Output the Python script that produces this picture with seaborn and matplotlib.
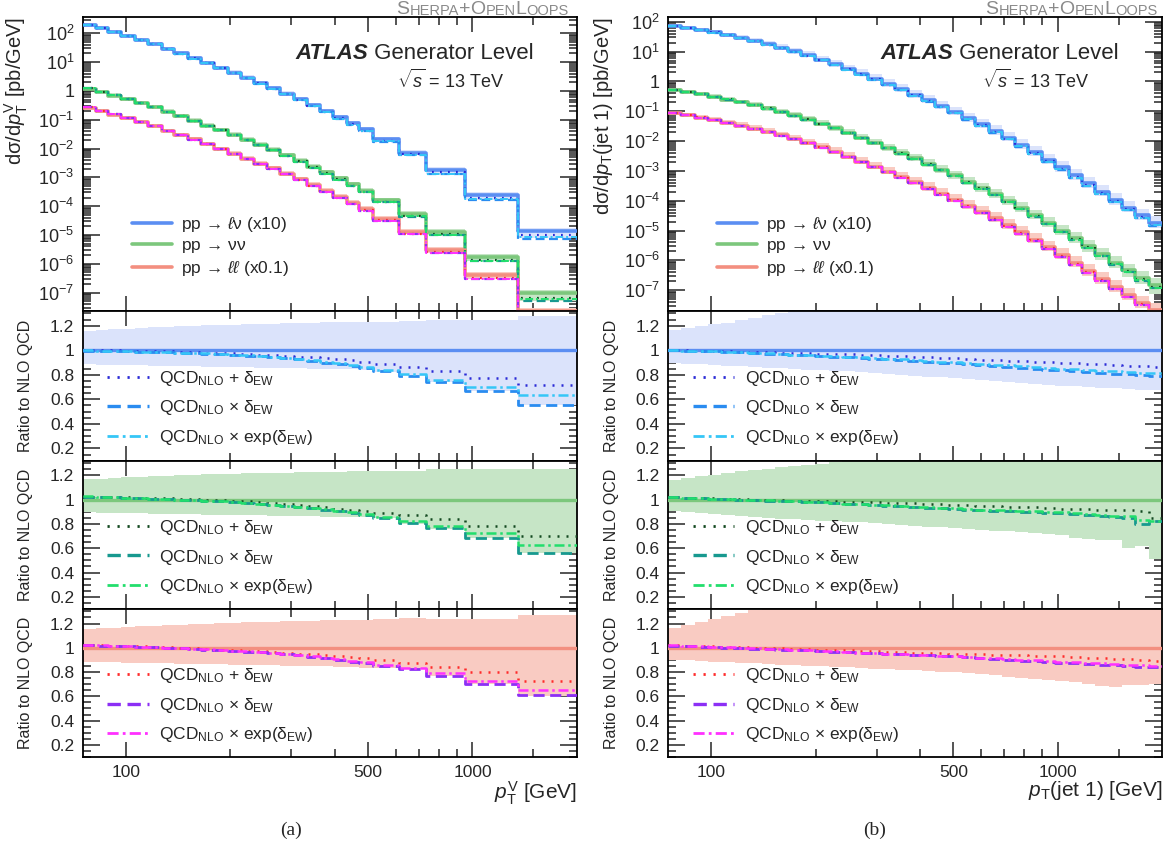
import numpy as np
import pandas as pd
import matplotlib
matplotlib.use("Agg")
import matplotlib.pyplot as plt
import seaborn as sns
from matplotlib.lines import Line2D
from matplotlib.ticker import FixedLocator, FuncFormatter, MultipleLocator, NullFormatter

sns.set_theme(style="ticks")
plt.rcParams["font.family"] = ["Liberation Sans", "DejaVu Sans"]
plt.rcParams["mathtext.fontset"] = "custom"
plt.rcParams["mathtext.rm"] = "Liberation Sans"
plt.rcParams["mathtext.it"] = "Liberation Sans:italic"
plt.rcParams["mathtext.bf"] = "Liberation Sans:bold"
plt.rcParams["axes.linewidth"] = 1.3
plt.rcParams["axes.edgecolor"] = "black"

# ---------------- data: (a) pT of the boson ----------------
EDGES_A = [75, 82, 89, 97, 106, 116, 127, 138, 151, 165, 180, 197, 215, 234, 256, 279,
           305, 333, 363, 396, 433, 472, 515, 614, 732, 951, 1350, 2000]

LV_A = [194, 149, 110, 81, 59, 42, 29, 20, 13.7, 9.3, 6.3, 4.3, 2.85, 1.9, 1.25, 0.81,
        0.51, 0.32, 0.2, 0.122, 0.075, 0.046, 0.021, 7.3e-3, 1.8e-3, 2.5e-4, 1.37e-5]
VV_A = [1.196, 0.919, 0.694, 0.511, 0.381, 0.271, 0.1915, 0.132, 0.0926, 0.0629, 0.0436,
        0.0298, 0.0202, 0.01345, 9.06e-3, 5.87e-3, 3.78e-3, 2.37e-3, 1.48e-3, 9.26e-4,
        5.69e-4, 3.49e-4, 1.59e-4, 5.41e-5, 1.30e-5, 1.77e-6, 9.48e-8]
LL_A = [0.262, 0.201, 0.152, 0.112, 0.0834, 0.0593, 0.0419, 0.0296, 0.0207, 0.0141, 9.76e-3,
        6.67e-3, 4.52e-3, 3.01e-3, 2.08e-3, 1.34e-3, 8.66e-4, 5.43e-4, 3.39e-4, 2.12e-4,
        1.30e-4, 8.0e-5, 3.64e-5, 1.27e-5, 3.05e-6, 4.15e-7, 2.22e-8]

LV_A_ADD = [1.0, 0.999, 0.998, 0.996, 0.994, 0.992, 0.99, 0.987, 0.984, 0.981, 0.978, 0.974, 0.97,
            0.965, 0.96, 0.955, 0.948, 0.942, 0.936, 0.928, 0.917, 0.905, 0.89, 0.866, 0.83, 0.775, 0.72]
LV_A_MUL = [0.997, 0.995, 0.993, 0.99, 0.988, 0.985, 0.982, 0.979, 0.976, 0.972, 0.968, 0.963, 0.957,
            0.951, 0.943, 0.935, 0.925, 0.914, 0.90, 0.886, 0.87, 0.855, 0.828, 0.79, 0.74, 0.666, 0.55]
LV_A_EXP = [0.998, 0.996, 0.994, 0.991, 0.989, 0.986, 0.983, 0.98, 0.977, 0.974, 0.97, 0.965, 0.959,
            0.953, 0.945, 0.937, 0.928, 0.918, 0.905, 0.892, 0.877, 0.864, 0.842, 0.805, 0.756, 0.70, 0.633]
LV_A_UP = [1.159, 1.165, 1.171, 1.176, 1.181, 1.186, 1.19, 1.194, 1.198, 1.202, 1.205, 1.208, 1.211,
           1.214, 1.217, 1.22, 1.222, 1.225, 1.228, 1.23, 1.232, 1.233, 1.234, 1.235, 1.245, 1.246, 1.282]
LV_A_DN = [0.885, 0.883, 0.881, 0.879, 0.877, 0.875, 0.873, 0.871, 0.869, 0.867, 0.865, 0.863, 0.861,
           0.859, 0.857, 0.855, 0.852, 0.85, 0.848, 0.846, 0.844, 0.842, 0.826, 0.79, 0.74, 0.665, 0.552]

VV_A_ADD = [1.025, 1.023, 1.021, 1.018, 1.015, 1.012, 1.009, 1.006, 1.003, 1.0, 0.996, 0.992, 0.986,
            0.979, 0.972, 0.964, 0.955, 0.945, 0.935, 0.925, 0.915, 0.902, 0.888, 0.872, 0.84, 0.785, 0.703]
VV_A_MUL = [1.025, 1.022, 1.019, 1.015, 1.011, 1.007, 1.003, 0.999, 0.995, 0.99, 0.985, 0.979, 0.972,
            0.964, 0.955, 0.946, 0.937, 0.927, 0.916, 0.905, 0.892, 0.877, 0.847, 0.804, 0.763, 0.684, 0.561]
VV_A_EXP = [1.026, 1.023, 1.02, 1.016, 1.012, 1.008, 1.004, 1.0, 0.996, 0.991, 0.986, 0.98, 0.973,
            0.965, 0.956, 0.947, 0.939, 0.929, 0.919, 0.908, 0.896, 0.882, 0.858, 0.826, 0.785, 0.722, 0.629]
VV_A_UP = [1.168, 1.173, 1.178, 1.183, 1.188, 1.192, 1.196, 1.2, 1.204, 1.207, 1.21, 1.213, 1.216,
           1.218, 1.22, 1.222, 1.224, 1.226, 1.228, 1.23, 1.231, 1.232, 1.234, 1.234, 1.248, 1.253, 1.248]
VV_A_DN = [0.895, 0.893, 0.891, 0.889, 0.887, 0.885, 0.883, 0.881, 0.879, 0.877, 0.875, 0.873, 0.871,
           0.869, 0.867, 0.865, 0.863, 0.861, 0.859, 0.857, 0.855, 0.853, 0.845, 0.802, 0.761, 0.682, 0.559]

LL_A_ADD = [1.022, 1.02, 1.017, 1.014, 1.011, 1.007, 1.003, 0.999, 0.995, 0.99, 0.985, 0.98, 0.975,
            0.97, 0.965, 0.958, 0.951, 0.945, 0.938, 0.932, 0.925, 0.915, 0.90, 0.875, 0.845, 0.80, 0.728]
LL_A_MUL = [1.02, 1.018, 1.015, 1.012, 1.008, 1.004, 1.0, 0.996, 0.991, 0.986, 0.981, 0.976, 0.969,
            0.962, 0.954, 0.946, 0.938, 0.927, 0.915, 0.90, 0.886, 0.872, 0.853, 0.826, 0.771, 0.70, 0.608]
LL_A_EXP = [1.021, 1.019, 1.016, 1.013, 1.009, 1.005, 1.001, 0.997, 0.992, 0.987, 0.982, 0.977, 0.97,
            0.963, 0.955, 0.948, 0.94, 0.93, 0.919, 0.905, 0.892, 0.879, 0.861, 0.834, 0.793, 0.73, 0.649]
LL_A_UP = [1.155, 1.161, 1.167, 1.172, 1.177, 1.182, 1.187, 1.191, 1.195, 1.199, 1.203, 1.206, 1.209,
           1.212, 1.215, 1.218, 1.221, 1.224, 1.226, 1.228, 1.23, 1.232, 1.234, 1.243, 1.234, 1.24, 1.267]
LL_A_DN = [0.883, 0.881, 0.879, 0.877, 0.875, 0.873, 0.871, 0.869, 0.867, 0.865, 0.863, 0.861, 0.859,
           0.857, 0.855, 0.853, 0.851, 0.849, 0.846, 0.843, 0.84, 0.837, 0.835, 0.824, 0.769, 0.698, 0.605]

# ---------------- data: (b) pT of the leading jet ----------------
EDGES_B = [75, 82, 90, 98, 107, 117, 128, 140, 153, 167, 182, 199, 218, 238, 260, 284, 310, 339,
           370, 405, 442, 483, 528, 577, 631, 689, 753, 823, 900, 983, 1074, 1174, 1283, 1402,
           1532, 1675, 1830, 2000]

LV_B = [73.6, 63.1, 53.1, 44.0, 35.7, 28.6, 22.5, 17.5, 13.4, 10.2, 7.55, 5.4, 3.77, 2.61, 1.79,
        1.22, 0.82, 0.546, 0.359, 0.233, 0.150, 0.0951, 0.0593, 0.0364, 0.0220, 0.0131, 7.6e-3,
        4.33e-3, 2.40e-3, 1.32e-3, 7.06e-4, 3.78e-4, 2.02e-4, 1.08e-4, 5.89e-5, 3.25e-5, 1.83e-5]
VV_B = [0.509, 0.437, 0.367, 0.304, 0.247, 0.198, 0.159, 0.124, 0.0948, 0.0722, 0.0534, 0.0382,
        0.0273, 0.0189, 0.0130, 8.84e-3, 5.94e-3, 3.96e-3, 2.66e-3, 1.73e-3, 1.11e-3, 7.05e-4,
        4.40e-4, 2.70e-4, 1.67e-4, 9.94e-5, 5.77e-5, 3.29e-5, 1.82e-5, 1.00e-5, 5.48e-6, 2.93e-6,
        1.57e-6, 8.39e-7, 4.68e-7, 2.58e-7, 1.45e-7]
LL_B = [0.0845, 0.0725, 0.0609, 0.0504, 0.0410, 0.0329, 0.0258, 0.0201, 0.0154, 0.0117, 8.66e-3,
        6.20e-3, 4.33e-3, 3.0e-3, 2.06e-3, 1.40e-3, 9.41e-4, 6.28e-4, 4.12e-4, 2.68e-4, 1.72e-4,
        1.09e-4, 6.81e-5, 4.18e-5, 2.53e-5, 1.50e-5, 8.73e-6, 4.98e-6, 2.75e-6, 1.51e-6, 8.11e-7,
        4.33e-7, 2.32e-7, 1.24e-7, 6.76e-8, 3.73e-8, 2.10e-8]

LV_B_ADD = [1.0, 0.999, 0.997, 0.995, 0.992, 0.989, 0.987, 0.984, 0.981, 0.978, 0.975, 0.973, 0.970,
            0.967, 0.964, 0.961, 0.957, 0.952, 0.948, 0.943, 0.938, 0.934, 0.929, 0.924, 0.919, 0.915,
            0.910, 0.905, 0.901, 0.896, 0.892, 0.888, 0.884, 0.880, 0.875, 0.871, 0.867]
LV_B_MUL = [0.998, 0.995, 0.992, 0.990, 0.986, 0.982, 0.977, 0.973, 0.968, 0.963, 0.958, 0.954, 0.948,
            0.943, 0.937, 0.931, 0.926, 0.919, 0.913, 0.906, 0.900, 0.893, 0.885, 0.878, 0.871, 0.864,
            0.857, 0.849, 0.842, 0.835, 0.829, 0.822, 0.816, 0.809, 0.803, 0.797, 0.790]
LV_B_EXP = [0.998, 0.995, 0.992, 0.990, 0.986, 0.982, 0.978, 0.974, 0.969, 0.965, 0.960, 0.956, 0.951,
            0.946, 0.941, 0.936, 0.931, 0.925, 0.919, 0.913, 0.907, 0.901, 0.894, 0.888, 0.882, 0.876,
            0.869, 0.863, 0.857, 0.851, 0.845, 0.839, 0.834, 0.828, 0.823, 0.818, 0.813]
LV_B_UP = [1.165, 1.18, 1.195, 1.21, 1.225, 1.245, 1.265, 1.285, 1.305, 1.325, 1.345, 1.36, 1.375,
           1.39, 1.405, 1.42, 1.435, 1.45, 1.465, 1.48, 1.495, 1.51, 1.52, 1.53, 1.54, 1.55, 1.56,
           1.57, 1.58, 1.59, 1.60, 1.61, 1.62, 1.63, 1.64, 1.65, 1.66]
LV_B_DN = [0.897, 0.890, 0.884, 0.878, 0.873, 0.868, 0.863, 0.858, 0.853, 0.847, 0.842, 0.838, 0.833,
           0.828, 0.823, 0.817, 0.810, 0.802, 0.794, 0.786, 0.778, 0.770, 0.762, 0.754, 0.746, 0.739,
           0.731, 0.723, 0.715, 0.711, 0.706, 0.700, 0.695, 0.690, 0.685, 0.680, 0.675]

VV_B_ADD = [1.018, 1.015, 1.012, 1.009, 1.006, 1.003, 1.0, 0.998, 0.995, 0.992, 0.99, 0.987, 0.985,
            0.982, 0.98, 0.977, 0.975, 0.972, 0.968, 0.964, 0.961, 0.957, 0.954, 0.951, 0.947, 0.943,
            0.939, 0.935, 0.930, 0.926, 0.922, 0.920, 0.918, 0.916, 0.912, 0.910, 0.85]
VV_B_MUL = [1.018, 1.014, 1.01, 1.006, 1.002, 0.998, 0.995, 0.992, 0.989, 0.985, 0.98, 0.976, 0.971,
            0.966, 0.962, 0.957, 0.951, 0.946, 0.94, 0.934, 0.929, 0.923, 0.918, 0.913, 0.908, 0.905,
            0.90, 0.896, 0.892, 0.888, 0.88, 0.872, 0.864, 0.855, 0.85, 0.80, 0.82]
VV_B_EXP = [1.019, 1.015, 1.011, 1.007, 1.003, 0.999, 0.996, 0.993, 0.990, 0.986, 0.981, 0.977, 0.972,
            0.967, 0.963, 0.958, 0.953, 0.948, 0.942, 0.936, 0.932, 0.927, 0.922, 0.918, 0.914, 0.911,
            0.907, 0.903, 0.899, 0.895, 0.888, 0.880, 0.873, 0.866, 0.862, 0.833, 0.827]
VV_B_UP = [1.16, 1.175, 1.19, 1.205, 1.22, 1.235, 1.245, 1.255, 1.265, 1.275, 1.285, 1.295, 1.305,
           1.315, 1.33, 1.345, 1.36, 1.375, 1.39, 1.405, 1.42, 1.435, 1.45, 1.465, 1.48, 1.495, 1.51,
           1.525, 1.54, 1.555, 1.57, 1.585, 1.6, 1.62, 1.64, 1.66, 1.7]
VV_B_DN = [0.905, 0.895, 0.886, 0.878, 0.871, 0.864, 0.857, 0.850, 0.844, 0.838, 0.833, 0.827, 0.822,
           0.817, 0.812, 0.806, 0.799, 0.792, 0.785, 0.778, 0.771, 0.765, 0.759, 0.752, 0.745, 0.738,
           0.732, 0.726, 0.72, 0.71, 0.68, 0.672, 0.668, 0.665, 0.60, 0.62, 0.51]

LL_B_ADD = [1.021, 1.018, 1.015, 1.011, 1.008, 1.005, 1.002, 0.998, 0.995, 0.992, 0.989, 0.985, 0.982,
            0.978, 0.975, 0.971, 0.968, 0.964, 0.961, 0.957, 0.954, 0.95, 0.948, 0.945, 0.943, 0.940,
            0.937, 0.935, 0.932, 0.93, 0.925, 0.92, 0.915, 0.91, 0.905, 0.90, 0.89]
LL_B_MUL = [1.018, 1.014, 1.01, 1.006, 1.002, 0.998, 0.994, 0.99, 0.986, 0.982, 0.978, 0.974, 0.969,
            0.965, 0.96, 0.956, 0.951, 0.947, 0.942, 0.938, 0.933, 0.929, 0.922, 0.915, 0.909, 0.902,
            0.895, 0.889, 0.882, 0.877, 0.872, 0.866, 0.861, 0.856, 0.850, 0.844, 0.838]
LL_B_EXP = [1.019, 1.015, 1.011, 1.007, 1.003, 0.999, 0.995, 0.991, 0.987, 0.983, 0.979, 0.975, 0.970,
            0.966, 0.961, 0.957, 0.953, 0.949, 0.944, 0.940, 0.935, 0.931, 0.925, 0.919, 0.913, 0.907,
            0.901, 0.896, 0.890, 0.886, 0.881, 0.876, 0.872, 0.867, 0.862, 0.857, 0.852]
LL_B_UP = [1.16, 1.185, 1.21, 1.235, 1.26, 1.285, 1.31, 1.335, 1.355, 1.375, 1.395, 1.41, 1.425, 1.44,
           1.455, 1.47, 1.485, 1.5, 1.515, 1.53, 1.545, 1.56, 1.575, 1.59, 1.605, 1.62, 1.635, 1.65,
           1.665, 1.68, 1.695, 1.71, 1.725, 1.74, 1.755, 1.77, 1.785]
LL_B_DN = [0.902, 0.897, 0.892, 0.887, 0.882, 0.877, 0.872, 0.867, 0.862, 0.857, 0.852, 0.848, 0.843,
           0.838, 0.833, 0.828, 0.824, 0.819, 0.814, 0.809, 0.804, 0.799, 0.790, 0.781, 0.772, 0.763,
           0.754, 0.745, 0.736, 0.728, 0.714, 0.701, 0.688, 0.68, 0.69, 0.695, 0.70]

PROC_LABELS = ["pp \u2192 $\\ell\\mathrm{\\nu}$ (x10)", "pp \u2192 $\\mathrm{\\nu\\nu}$",
               "pp \u2192 $\\ell\\ell$ (x0.1)"]
VAR_LABELS = [r"QCD$_{\rm NLO}$ + $\mathrm{\delta}_{\rm EW}$",
              r"QCD$_{\rm NLO}$ $\times$ $\mathrm{\delta}_{\rm EW}$",
              r"QCD$_{\rm NLO}$ $\times$ exp($\mathrm{\delta}_{\rm EW}$)"]
X_TICKS = [100, 500, 1000]
X_MINOR = [200, 300, 400, 600, 700, 800, 900, 1500]
Y_DECADES = [1e-7, 1e-6, 1e-5, 1e-4, 1e-3, 1e-2, 1e-1, 1, 10, 100]

# colours: nlo line, band, additive, multiplicative, exponentiated
COLORS = [
    dict(nlo="#5b8ef2", band="#dbe3fb", add="#2a2ad6", mul="#2a8cf0", exp="#35c6f7"),
    dict(nlo="#7cc77c", band="#c6e5c6", add="#12481f", mul="#17998f", exp="#22de6c"),
    dict(nlo="#f38f80", band="#f9cbc2", add="#ff2a2a", mul="#8c2ff5", exp="#ff30ff"),
]
LS_ADD = (0, (0.8, 2.8))
LS_MUL = (0, (4, 2))
LS_EXP = (0, (4, 1.5, 1, 1.5))
GREY = "#8a8a8a"


def steps(ax, edges, vals, **kw):
    df = pd.DataFrame({"pt": edges, "val": list(vals) + [vals[-1]]})
    sns.lineplot(data=df, x="pt", y="val", ax=ax, drawstyle="steps-post",
                 estimator=None, sort=False, legend=False, **kw)


def band(ax, edges, lo, hi, color, z=1):
    ax.fill_between(edges, list(lo) + [lo[-1]], list(hi) + [hi[-1]], step="post",
                    color=color, lw=0, zorder=z)


def style_x(ax, labels):
    ax.set_xscale("log")
    ax.set_xlim(75, 2000)
    ax.xaxis.set_major_locator(FixedLocator(X_TICKS))
    ax.xaxis.set_minor_locator(FixedLocator(X_MINOR))
    if labels:
        ax.xaxis.set_major_formatter(FuncFormatter(lambda v, _: f"{v:g}"))
    else:
        ax.xaxis.set_major_formatter(NullFormatter())
    ax.xaxis.set_minor_formatter(NullFormatter())
    ax.tick_params(which="both", direction="in", top=True, right=True, labelsize=12.5,
                   width=1.1, pad=6)
    ax.tick_params(which="major", length=11)
    ax.tick_params(which="minor", length=6)


def log_label(v, _):
    e = int(round(np.log10(v)))
    return "1" if e == 0 else rf"$10^{{{e}}}$"


def draw_side(x0, edges, procs, ylims, ylabel, xlabel):
    w = 0.4212
    ax_main = fig.add_axes([x0, 0.6337, w, 0.3463])
    rat = [fig.add_axes([x0, 0.4574, w, 0.1763]),
           fig.add_axes([x0, 0.2827, w, 0.1747]),
           fig.add_axes([x0, 0.1084, w, 0.1743])]

    # main panel
    for p, c in zip(procs, COLORS):
        lo = [n * r for n, r in zip(p["nlo"], p["dn"])]
        hi = [n * r for n, r in zip(p["nlo"], p["up"])]
        band(ax_main, edges, lo, hi, c["band"])
    for p, c in zip(procs, COLORS):
        steps(ax_main, edges, p["nlo"], color=c["nlo"], lw=2.6, zorder=3)
    for p, c in zip(procs, COLORS):
        for key, ls, lw in (("add", LS_ADD, 1.6), ("mul", LS_MUL, 1.6), ("exp", LS_EXP, 1.4)):
            vals = [n * r for n, r in zip(p["nlo"], p[key])]
            steps(ax_main, edges, vals, color=c[key], lw=lw, linestyle=ls, zorder=4)
    ax_main.set_yscale("log")
    ax_main.set_ylim(*ylims)
    minors = [m * d for d in [1e-8] + Y_DECADES for m in range(2, 10)]
    ax_main.yaxis.set_major_locator(FixedLocator(Y_DECADES))
    ax_main.yaxis.set_minor_locator(FixedLocator([m for m in minors if ylims[0] < m < ylims[1]]))
    ax_main.yaxis.set_major_formatter(FuncFormatter(log_label))
    ax_main.yaxis.set_minor_formatter(NullFormatter())
    style_x(ax_main, False)
    ax_main.tick_params(axis="y", which="major", length=12, labelsize=13)
    ax_main.tick_params(axis="y", which="minor", length=6)
    ax_main.set_xlabel("")
    ax_main.set_ylabel(ylabel, fontsize=14.5, loc="top")
    ax_main.yaxis.set_label_coords(-0.107, 1.0)

    hands = [Line2D([], [], color=c["nlo"], lw=2.6) for c in COLORS]
    ax_main.legend(hands, PROC_LABELS, loc="upper left", bbox_to_anchor=(0.1, 0.325),
                   frameon=False, fontsize=12.5, handlelength=2.3, handletextpad=0.5,
                   labelspacing=0.22, borderpad=0, borderaxespad=0)

    t = ax_main.text(0.43, 0.877, "ATLAS", transform=ax_main.transAxes, fontsize=16,
                     fontweight="bold", fontstyle="italic", va="center", ha="left")
    ax_main.annotate(" Generator Level", xy=(1, 0), xycoords=t, va="bottom", ha="left",
                     fontsize=16)
    ax_main.text(0.636, 0.786, r"$\sqrt{s}$ = 13 TeV", transform=ax_main.transAxes,
                 fontsize=13, va="center", ha="left")

    # ratio panels
    for ax, p, c in zip(rat, procs, COLORS):
        band(ax, edges, p["dn"], p["up"], c["band"])
        steps(ax, edges, [n / n for n in p["nlo"]], color=c["nlo"], lw=2.4, zorder=3)
        steps(ax, edges, p["add"], color=c["add"], lw=1.8, linestyle=LS_ADD, zorder=4)
        steps(ax, edges, p["mul"], color=c["mul"], lw=2.0, linestyle=LS_MUL, zorder=4)
        steps(ax, edges, p["exp"], color=c["exp"], lw=1.8, linestyle=LS_EXP, zorder=5)
        ax.set_ylim(0.1, 1.32)
        ax.yaxis.set_major_locator(MultipleLocator(0.2))
        ax.yaxis.set_minor_locator(MultipleLocator(0.05))
        ax.yaxis.set_major_formatter(FuncFormatter(lambda v, _: f"{v:.1f}".replace("1.0", "1")))
        style_x(ax, ax is rat[-1])
        ax.tick_params(axis="y", which="major", length=12)
        ax.tick_params(axis="y", which="minor", length=6)
        ax.set_xlabel("")
        ax.set_ylabel("Ratio to NLO QCD", fontsize=11.5)
        ax.yaxis.set_label_coords(-0.1, 0.5)
        hands = [Line2D([], [], color=c["add"], lw=2, linestyle=LS_ADD),
                 Line2D([], [], color=c["mul"], lw=2.4, linestyle=LS_MUL),
                 Line2D([], [], color=c["exp"], lw=2, linestyle=LS_EXP)]
        ax.legend(hands, VAR_LABELS, loc="upper left", bbox_to_anchor=(0.05, 0.615),
                  frameon=False, fontsize=12.5, handlelength=2.4, handletextpad=0.6,
                  labelspacing=0.62, borderpad=0, borderaxespad=0)

    rat[-1].set_xlabel(xlabel, fontsize=15, loc="right")
    rat[-1].xaxis.set_label_coords(1.0, -0.15)
    return ax_main


fig = plt.figure(figsize=(11.73, 8.49), dpi=100)

procs_a = [
    dict(nlo=LV_A, add=LV_A_ADD, mul=LV_A_MUL, exp=LV_A_EXP, up=LV_A_UP, dn=LV_A_DN),
    dict(nlo=VV_A, add=VV_A_ADD, mul=VV_A_MUL, exp=VV_A_EXP, up=VV_A_UP, dn=VV_A_DN),
    dict(nlo=LL_A, add=LL_A_ADD, mul=LL_A_MUL, exp=LL_A_EXP, up=LL_A_UP, dn=LL_A_DN),
]
procs_b = [
    dict(nlo=LV_B, add=LV_B_ADD, mul=LV_B_MUL, exp=LV_B_EXP, up=LV_B_UP, dn=LV_B_DN),
    dict(nlo=VV_B, add=VV_B_ADD, mul=VV_B_MUL, exp=VV_B_EXP, up=VV_B_UP, dn=VV_B_DN),
    dict(nlo=LL_B, add=LL_B_ADD, mul=LL_B_MUL, exp=LL_B_EXP, up=LL_B_UP, dn=LL_B_DN),
]

ax_a = draw_side(0.0705, EDGES_A, procs_a, (2.3e-8, 370),
                 r"d$\mathrm{\sigma}$/d$p_{\rm T}^{\rm V}$ [pb/GeV]", r"$p_{\rm T}^{\rm V}$ [GeV]")
ax_b = draw_side(0.5695, EDGES_B, procs_b, (2.0e-8, 145),
                 r"d$\mathrm{\sigma}$/d$p_{\rm T}$(jet 1) [pb/GeV]", r"$p_{\rm T}$(jet 1) [GeV]")

# small-caps generator label, built from chained pieces
for x in (0.338, 0.840):
    parts = [("S", 14), ("HERPA", 10.5), ("+", 14), ("O", 14), ("PEN", 10.5),
             ("L", 14), ("OOPS", 10.5)]
    prev = fig.text(x, 0.9835, parts[0][0], fontsize=parts[0][1], color=GREY,
                    ha="left", va="baseline")
    for s, fs in parts[1:]:
        prev = ax_a.annotate(s, xy=(1, 0), xycoords=prev, fontsize=fs, color=GREY,
                             ha="left", va="bottom", annotation_clip=False)

fig.text(291 / 1173, 1 - 830 / 849, "(a)", ha="center", va="center",
         family="Liberation Serif", fontsize=14)
fig.text(875 / 1173, 1 - 830 / 849, "(b)", ha="center", va="center",
         family="Liberation Serif", fontsize=14)

fig.savefig("out.png", dpi=100)
